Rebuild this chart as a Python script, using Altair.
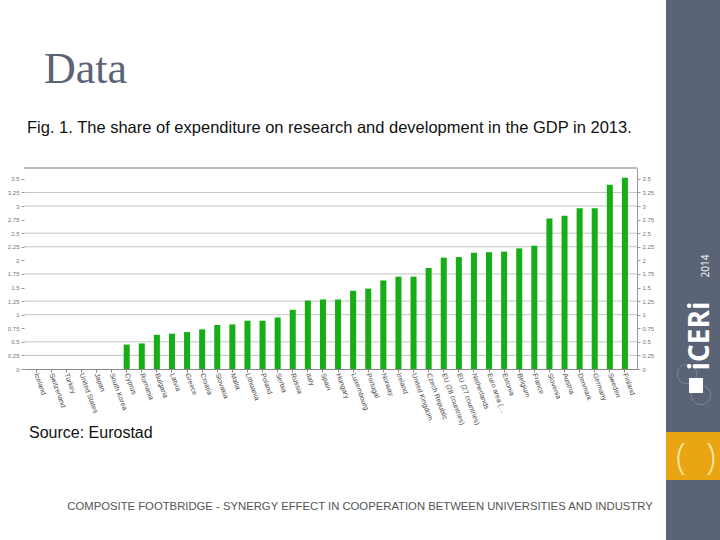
import altair as alt
import pandas as pd

countries = ["Iceland", "Switzerland", "Turkey", "United States", "Japan", "South Korea",
             "Cyprus", "Romania", "Bulgaria", "Latvia", "Greece", "Croatia", "Slovakia",
             "Malta", "Lithuania", "Poland", "Serbia", "Russia", "Italy", "Spain", "Hungary",
             "Luxembourg", "Portugal", "Norway", "Ireland", "United Kingdom", "Czech Republic",
             "EU (28 countries)", "EU (27 countries)", "Netherlands", "Euro area (…", "Estonia",
             "Belgium", "France", "Slovenia", "Austria", "Denmark", "Germany", "Sweden", "Finland"]
rd_share = [0, 0, 0, 0, 0, 0,
            0.45, 0.47, 0.63, 0.65, 0.68, 0.73, 0.81,
            0.82, 0.89, 0.89, 0.95, 1.09, 1.26, 1.28, 1.28,
            1.44, 1.48, 1.63, 1.70, 1.70, 1.86,
            2.05, 2.06, 2.14, 2.15, 2.16,
            2.22, 2.27, 2.77, 2.82, 2.96, 2.96, 3.39, 3.52]
y_ticks = [0, 0.25, 0.5, 0.75, 1, 1.25, 1.5, 1.75, 2, 2.25, 2.5, 2.75, 3, 3.25, 3.5]
grid_values = [0.25, 0.5, 1, 1.25, 1.75, 2.25, 2.5, 3, 3.25]

df = pd.DataFrame({"country": countries, "share": rd_share})

W, H = 613, 201
OX, OY = 24, 168  # plot origin on the page

yscale = alt.Scale(domain=[0, 3.7], nice=False)
x_enc = alt.X("country:N", sort=countries,
              scale=alt.Scale(paddingInner=0.6, paddingOuter=0.6),
              axis=alt.Axis(title=None, labelAngle=70, labelAlign="left", labelBaseline="middle",
                            labelFontSize=7, labelColor="#444444", labelFont="Liberation Sans",
                            domainColor="#888888", tickColor="#888888", tickSize=3,
                            labelPadding=1, labelOverlap=False))

grid = alt.Chart(pd.DataFrame({"g": grid_values})).mark_rule(color="#c4c4c4", strokeWidth=1).encode(
    y=alt.Y("g:Q", scale=yscale, axis=None))

bars = alt.Chart(df).mark_bar(color="#17ad17").encode(
    x=x_enc,
    y=alt.Y("share:Q", scale=yscale,
            axis=alt.Axis(orient="left", values=y_ticks, format=".2~f", grid=False, domain=False,
                          title=None, labelFontSize=6, labelColor="#777777", tickColor="#999999",
                          tickSize=3, labelPadding=2, labelFont="Liberation Sans")))

right_axis = alt.Chart(df).mark_bar(opacity=0).encode(
    x=x_enc,
    y=alt.Y("share:Q", scale=yscale,
            axis=alt.Axis(orient="right", values=y_ticks, format=".2~f", grid=False, domain=True,
                          domainColor="#999999", title=None, labelFontSize=6, labelColor="#777777",
                          tickColor="#999999", tickSize=3, labelPadding=2, labelFont="Liberation Sans")))

one = alt.Data(values=[{"k": 1}])

top_line = alt.Chart(one).mark_rule(color="#777777", strokeWidth=1).encode(
    x=alt.value(0), x2=alt.value(W), y=alt.value(0))


def txt(s, x, y, **kw):
    return alt.Chart(one).mark_text(**kw).encode(
        x=alt.value(x - OX), y=alt.value(y - OY), text=alt.value(s))


def rect(x1, y1, x2, y2, color):
    return alt.Chart(one).mark_rect(color=color).encode(
        x=alt.value(x1 - OX), x2=alt.value(x2 - OX), y=alt.value(y1 - OY), y2=alt.value(y2 - OY))


def ring(x, y):
    return alt.Chart(one).mark_point(shape="circle", filled=False, color="#8a92a3", size=380,
                                     strokeWidth=1).encode(x=alt.value(x - OX), y=alt.value(y - OY))


title = txt("Data", 44, 83, font="Liberation Serif", fontSize=44, color="#5b6477", align="left",
            baseline="alphabetic")
subtitle = txt("Fig. 1. The share of expenditure on research and development in the GDP in 2013.",
               27, 133, font="Liberation Sans", fontSize=16.5, color="#111111", align="left",
               baseline="alphabetic")
source = txt("Source: Eurostad", 29, 438, font="Liberation Sans", fontSize=16, color="#111111",
             align="left", baseline="alphabetic")
footer = txt("COMPOSITE FOOTBRIDGE - SYNERGY EFFECT IN COOPERATION BETWEEN UNIVERSITIES AND INDUSTRY",
             360, 510, font="Liberation Sans", fontSize=11.3, color="#555555", align="center",
             baseline="alphabetic")

sidebar = rect(666, 0, 720, 540, "#5b6477")
orange = rect(666, 432, 720, 480, "#eaa612")
logo = txt("iCERi", 701, 336, font="Open Sans", fontSize=28, fontWeight="bold", color="white",
           angle=270, align="center", baseline="middle")
logo_year = txt("2014", 706, 266, font="Open Sans", fontSize=10, color="white",
                angle=270, align="center", baseline="middle")
circle1 = ring(687, 374)
circle2 = ring(701, 395)
square = rect(689, 378, 703, 393, "white")
br_left = txt("(", 681, 458, font="Open Sans", fontSize=36, fontWeight="lighter", color="#f7e9a8",
              align="center", baseline="middle")
br_right = txt(")", 711, 458, font="Open Sans", fontSize=36, fontWeight="lighter", color="#f7e9a8",
               align="center", baseline="middle")

chart = alt.layer(
    grid, bars, right_axis, top_line,
    title, subtitle, source, footer,
    sidebar, orange, circle1, circle2, square, logo, logo_year, br_left, br_right
).resolve_axis(y="independent").properties(
    width=W, height=H,
    autosize=alt.AutoSizeParams(type="none"),
    padding={"left": OX, "top": OY, "right": 720 - OX - W, "bottom": 540 - OY - H},
    background="white"
).configure_view(stroke=None)

chart.save("out.html", embed_options={"renderer": "svg", "actions": False})
